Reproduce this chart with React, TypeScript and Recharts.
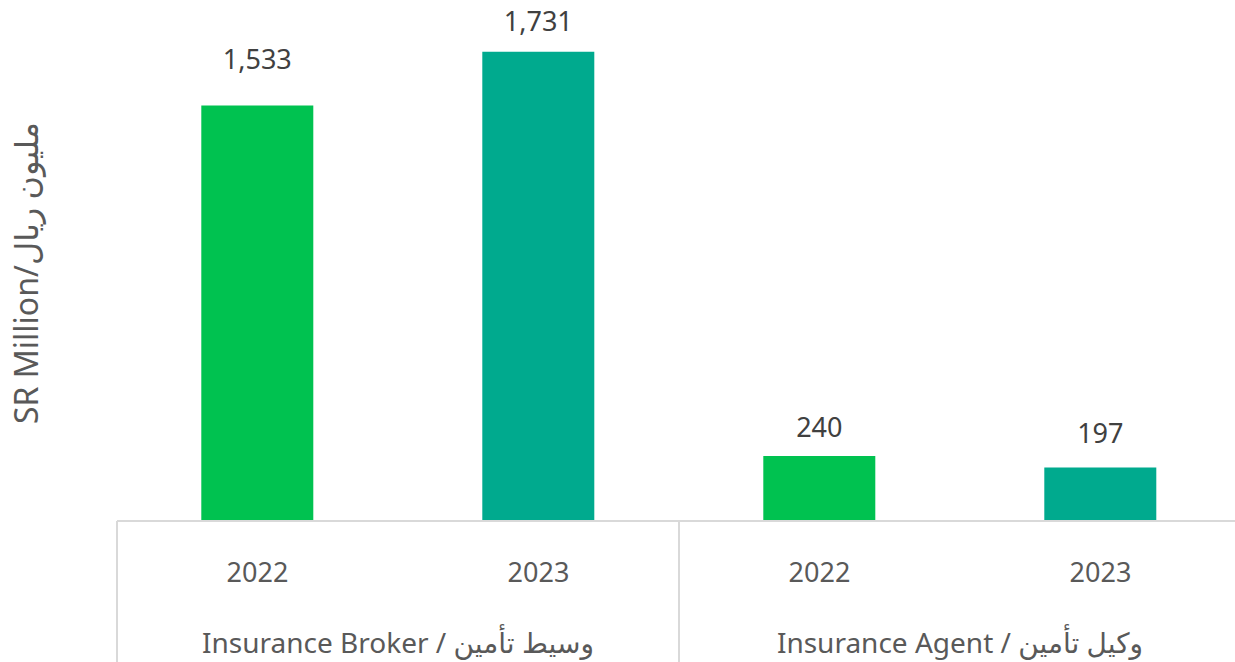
import { BarChart, Bar, XAxis, YAxis, Cell, LabelList } from "recharts";

/* ─── values ─── */
const years = ["2022", "2023", "2022", "2023"];
const groups = [
  "Insurance Broker / وسيط تأمين",
  "Insurance Broker / وسيط تأمين",
  "Insurance Agent / وكيل تأمين",
  "Insurance Agent / وكيل تأمين",
];
const values = [1533, 1731, 240, 197];
const colors = ["#00C250", "#00AA8E", "#00C250", "#00AA8E"];
// gap between bar top and label centre, per bar (as placed in the source)
const labelLift = [47, 31, 29, 35];

const data = years.map((year, i) => ({ key: i, year, group: groups[i], value: values[i] }));

const FONT = "'Noto Sans', 'DejaVu Sans', sans-serif";
const AXIS = "#D9D9D9";

function YearTick(p: any) {
  return (
    <text x={p.x} y={p.y} dy={42} textAnchor="middle" dominantBaseline="central"
      fontFamily={FONT} fontSize={27} fill="#595959">
      {years[p.index] ?? p.payload.value}
    </text>
  );
}

function GroupTick(p: any) {
  const half = p.width / p.visibleTicksCount / 2;
  return (
    <g>
      <line x1={p.x - half} x2={p.x - half} y1={p.y - 88} y2={p.y + 70} stroke={AXIS} strokeWidth={2} />
      <line x1={p.x + half} x2={p.x + half} y1={p.y - 88} y2={p.y + 70} stroke={AXIS} strokeWidth={2} />
      <text x={p.x} y={p.y} dy={33} textAnchor="middle" dominantBaseline="central"
        fontFamily={FONT} fontSize={28} fill="#595959">
        {p.payload.value}
      </text>
    </g>
  );
}

function ValueLabel(p: any) {
  const lift = labelLift[p.index] ?? 30;
  return (
    <text x={p.x + p.width / 2} y={p.y - lift} textAnchor="middle" dominantBaseline="central"
      fontFamily={FONT} fontSize={27} fill="#404040">
      {Number(p.value).toLocaleString("en-US")}
    </text>
  );
}

function AxisTitle(p: any) {
  const vb = p.viewBox;
  const cx = 25;
  const cy = vb.y + vb.height / 2 - 4;
  return (
    <text x={cx} y={cy} transform={`rotate(-90 ${cx} ${cy})`} textAnchor="middle" dominantBaseline="central"
      fontFamily={FONT} fontSize={32} fill="#595959">
      SR Million/مليون ريال
    </text>
  );
}

export default function App() {
  return (
    <div style={{ position: "absolute", left: 0, top: 0, width: 1235, height: 662, overflow: "hidden" }}>
      <BarChart width={1248} height={662} data={data}
        margin={{ top: 33, right: 7, bottom: 0, left: 0 }} barCategoryGap="30%">
        <XAxis xAxisId={0} dataKey="key" height={80} tickLine={false}
          axisLine={{ stroke: AXIS, strokeWidth: 2 }} tick={<YearTick />} interval={0} />
        <XAxis xAxisId={1} dataKey="group" height={61} tickLine={false} axisLine={false}
          allowDuplicatedCategory={false} tick={<GroupTick />} interval={0} />
        <YAxis width={117} domain={[0, 1800]} tick={false} axisLine={false} tickLine={false}
          label={<AxisTitle />} />
        <Bar xAxisId={0} dataKey="value" isAnimationActive={false}>
          {data.map((d, i) => (
            <Cell key={d.key} fill={colors[i]} />
          ))}
          <LabelList dataKey="value" content={<ValueLabel />} />
        </Bar>
      </BarChart>
    </div>
  );
}
